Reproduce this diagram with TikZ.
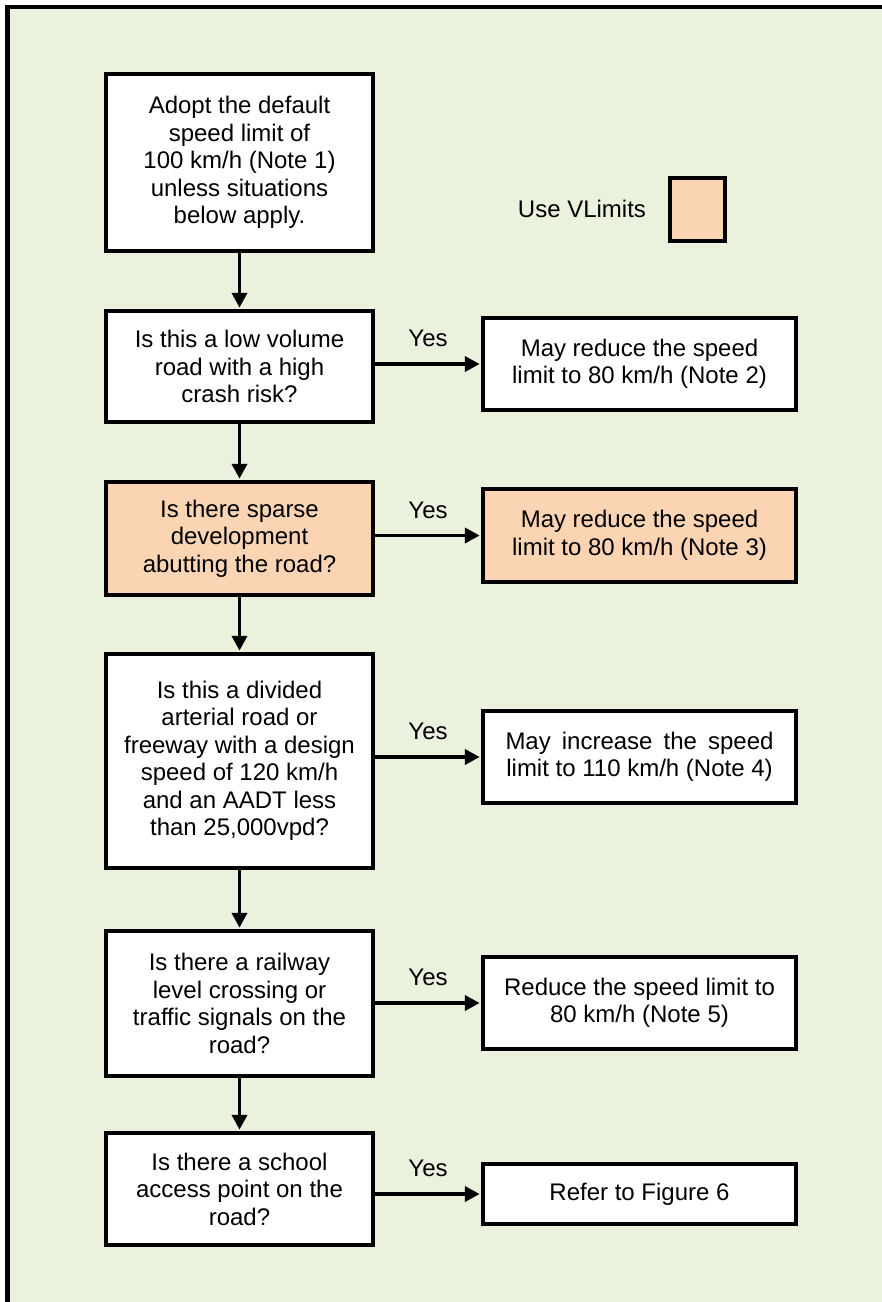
\documentclass[tikz,border=0pt]{standalone}
\usepackage{fontspec}
\setmainfont{Liberation Sans}
\usetikzlibrary{arrows.meta}
\definecolor{panelgreen}{HTML}{EAF1DD}
\definecolor{vlpeach}{HTML}{FBD4B4}
\tikzset{
	qbox/.style={draw=black, line width=4.5pt, fill=white, minimum width=267pt, inner sep=0pt, align=center, font=\fontsize{24}{27.5}\selectfont},
	abox/.style={qbox, minimum width=313pt, minimum height=92pt},
	vl/.style={fill=vlpeach},
	arr/.style={line width=3.8pt, -{Triangle[length=15pt,width=15pt]}, shorten >=1pt},
	yes/.style={above=15pt, inner sep=0pt, font=\fontsize{24}{27.5}\selectfont}
}

\begin{document}
\begin{tikzpicture}[x=1pt,y=-1pt]
			%%%%% START %%%%%
			
			\useasboundingbox (0,0) rectangle (882,1302);
			\fill[panelgreen] (7.5,7) rectangle (882,1302);
			\draw[line width=4.5pt] (7.5,1302) -- (7.5,7) -- (882,7);
			
			\node[qbox, minimum height=177pt] (start) at (239.5,162.5) {Adopt the default\\speed limit of\\100 km/h (Note 1)\\unless situations\\below apply.};
			
			\node[font=\fontsize{24}{27.5}\selectfont] (usevl) at (582,209) {Use VLimits};
			\node[draw=black, line width=4.5pt, vl, minimum width=55pt, minimum height=63pt] (vlkey) at (697.5,209.5) {};
			
			\node[qbox, minimum height=111pt] (lowvol) at (239.5,366.5) {Is this a low volume\\road with a high\\crash risk?};
			\node[qbox, vl, minimum height=113pt] (sparse) at (239.5,538.5) {Is there sparse\\development\\abutting the road?};
			\node[qbox, minimum height=214pt] (divided) at (239.5,761) {Is this a divided\\arterial road or\\freeway with a design\\speed of 120 km/h\\and an AADT less\\than 25,000vpd?};
			\node[qbox, minimum height=145pt] (railway) at (239.5,1003.5) {Is there a railway\\level crossing or\\traffic signals on the\\road?};
			\node[qbox, minimum height=112pt] (school) at (239.5,1189) {Is there a school\\access point on the\\road?};
			
			\node[abox] (lowvolres) at (639.5,364) {May reduce the speed\\limit to 80 km/h (Note 2)};
			\node[abox, vl, minimum height=93pt] (sparseres) at (639.5,535.5) {May reduce the speed\\limit to 80 km/h (Note 3)};
			\node[abox] (dividedres) at (639.5,757) {\makebox[268pt][s]{May increase the speed}\\limit to 110 km/h (Note 4)};
			\node[abox] (railwayres) at (639.5,1003) {Reduce the speed limit to\\80 km/h (Note 5)};
			\node[abox, minimum height=60pt] (schoolres) at (639.5,1194) {Refer to Figure 6};
			
			\draw[arr] (start) -- (lowvol);
			\draw[arr] (lowvol) -- (sparse);
			\draw[arr] (sparse) -- (divided);
			\draw[arr] (divided) -- (railway);
			\draw[arr] (railway) -- (school);
			
			\draw[arr] (lowvolres.west -| lowvol.east) -- (lowvolres.west) node[midway, yes] {Yes};
			\draw[arr] (sparseres.west -| sparse.east) -- (sparseres.west) node[midway, yes] {Yes};
			\draw[arr] (dividedres.west -| divided.east) -- (dividedres.west) node[midway, yes] {Yes};
			\draw[arr] (railwayres.west -| railway.east) -- (railwayres.west) node[midway, yes] {Yes};
			\draw[arr] (schoolres.west -| school.east) -- (schoolres.west) node[midway, yes] {Yes};
			
			%%%%% END %%%%%
\end{tikzpicture}
\end{document}
